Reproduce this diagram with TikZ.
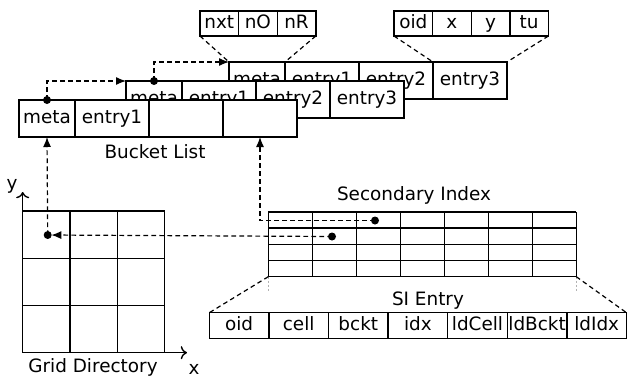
\documentclass[tikz,border=0pt]{standalone}
\usepackage{fontspec}
\setmainfont{DejaVu Sans}
\usetikzlibrary{positioning,arrows.meta}

\begin{document}
\begin{tikzpicture}[x=0.5pt, y=-0.5pt, font=\fontsize{9.2}{10}\selectfont,
    every node/.style={inner sep=0pt, outer sep=0pt},
    bcell/.style={draw, fill=white, line width=0.7pt, minimum width=37pt, minimum height=18.5pt, text height=7pt, text depth=2pt},
    mcell/.style={bcell, minimum width=28pt},
    fcell/.style={draw, fill=white, line width=0.7pt, minimum width=19.3pt, minimum height=12.5pt, text height=7pt, text depth=2pt},
    scell/.style={draw, fill=white, line width=0.7pt, minimum width=29.8pt, minimum height=13pt, text height=7pt, text depth=2pt},
    dline/.style={dash pattern=on 2.3pt off 1.7pt, line width=0.6pt},
    dot/.style={circle, fill, minimum size=4pt}]

    \useasboundingbox (0,0) rectangle (627,381);

    % bucket list, back row first
    \node[mcell, anchor=north west] (m3) at (229,62) {meta};
    \node[bcell, right=0pt of m3] (e31) {entry1};
    \node[bcell, right=0pt of e31] (e32) {entry2};
    \node[bcell, right=0pt of e32] (e33) {entry3};

    \node[mcell, anchor=north west] (m2) at (126,81) {meta};
    \node[bcell, right=0pt of m2] (e21) {entry1};
    \node[bcell, right=0pt of e21] (e22) {entry2};
    \node[bcell, right=0pt of e22] (e23) {entry3};

    \node[mcell, anchor=north west] (m1) at (19,100) {meta};
    \node[bcell, right=0pt of m1] (e11) {entry1};
    \node[bcell, right=0pt of e11] (e12) {};
    \node[bcell, right=0pt of e12] (e13) {};

    \node (bl) at (155,152) {Bucket List};

    % meta and entry fields
    \node[fcell, anchor=north west] (nxt) at (200,11) {nxt};
    \node[fcell, right=0pt of nxt] (nO) {nO};
    \node[fcell, right=0pt of nO] (nR) {nR};

    \node[fcell, anchor=north west] (foid) at (394,11) {oid};
    \node[fcell, right=0pt of foid] (fx) {x};
    \node[fcell, right=0pt of fx] (fy) {y};
    \node[fcell, right=0pt of fy] (ftu) {tu};

    \draw[dline] (nxt.south west) -- (m3.north west);
    \draw[dline] (nR.south east) -- (m3.north east);
    \draw[dline] (foid.south west) -- (e33.north west);
    \draw[dline] (ftu.south east) -- (e33.north east);

    % grid directory
    \foreach \i in {0,...,3} {
        \draw[line width=0.7pt] (22.7+47.3*\i,211) -- (22.7+47.3*\i,352.7);
        \draw[line width=0.7pt] (22.7,211+47.2*\i) -- (164.6,211+47.2*\i);
    }
    \coordinate (org) at (22.7,352.7);
    \coordinate (ytip) at (22.7,192);
    \coordinate (xtip) at (187,352.7);
    \draw[->, line width=0.7pt] (org) -- (ytip);
    \draw[->, line width=0.7pt] (org) -- (xtip);
    \node (ylab) at (12,186) {y};
    \node (xlab) at (194,369) {x};
    \node (gd) at (93,367) {Grid Directory};

    % secondary index
    \foreach \i in {0,...,7}
        \draw[line width=0.7pt] (268.3+44*\i,212) -- (268.3+44*\i,276.7);
    \foreach \j in {0,...,4}
        \draw[line width=0.7pt] (268.3,212+16.17*\j) -- (576.3,212+16.17*\j);
    \node (si) at (414,195) {Secondary Index};
    \coordinate (siSW) at (268.3,276.7);
    \coordinate (siSE) at (576.3,276.7);
    \draw[gray!60, dash pattern=on 1pt off 1pt] (siSW) -- ++(0,15);
    \draw[gray!60, dash pattern=on 1pt off 1pt] (siSE) -- ++(0,15);

    % SI entry
    \node (sie) at (428,301) {SI Entry};
    \node[scell, anchor=north west] (sOid) at (209.3,312.7) {oid};
    \node[scell, right=0pt of sOid] (sCell) {cell};
    \node[scell, right=0pt of sCell] (sBckt) {bckt};
    \node[scell, right=0pt of sBckt] (sIdx) {idx};
    \node[scell, right=0pt of sIdx] (sLdCell) {ldCell};
    \node[scell, right=0pt of sLdCell] (sLdBckt) {ldBckt};
    \node[scell, right=0pt of sLdBckt] (sLdIdx) {ldIdx};

    \draw[dline] (siSW) -- (sOid.north west);
    \draw[dline] (siSE) -- (sLdIdx.north east);

    % pointers
    \coordinate (gdot) at (47.7,235);
    \coordinate (sdot1) at (375,220.5);
    \coordinate (sdot2) at (332,236.5);

    \draw[dline, -{Latex[length=5pt,width=4pt]}] (m1.north) |- (m2.north west);
    \draw[dline, -{Latex[length=5pt,width=4pt]}] (m2.north) |- (m3.north west);
    \draw[dline, -{Latex[length=5pt,width=4pt]}] (gdot) -- (m1.south);
    \draw[dline, -{Latex[length=5pt,width=4pt]}] (sdot1) -| (e13.south);
    \draw[dline, -{Latex[length=5pt,width=4pt]}, shorten >=1.8pt] (sdot2) -- (gdot);

    \node[dot] (d1) at (m1.north) {};
    \node[dot] (d2) at (m2.north) {};
    \node[dot] (d3) at (gdot) {};
    \node[dot] (d4) at (sdot1) {};
    \node[dot] (d5) at (sdot2) {};
\end{tikzpicture}
\end{document}
